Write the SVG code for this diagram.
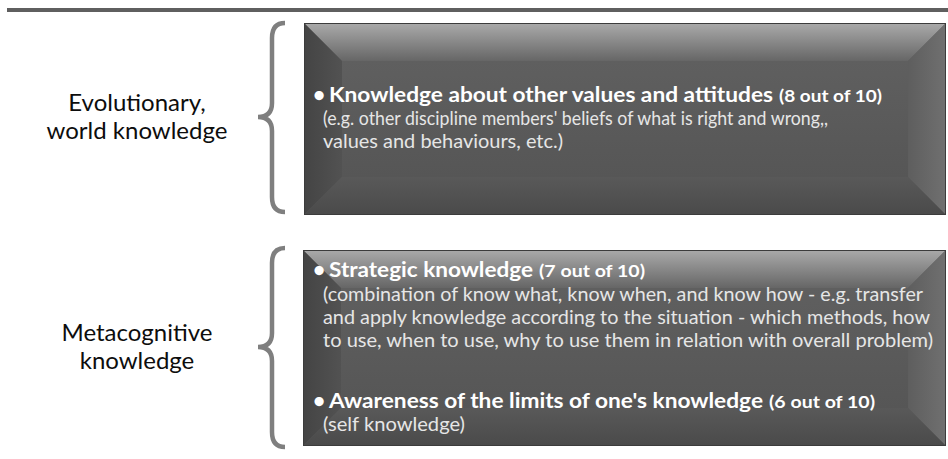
<svg xmlns="http://www.w3.org/2000/svg" width="948" height="459" viewBox="0 0 948 459">
  <defs>
    <linearGradient id="gTop" x1="0" y1="0" x2="0" y2="1">
      <stop offset="0" stop-color="#aaaaaa"/>
      <stop offset="1" stop-color="#666666"/>
    </linearGradient>
    <linearGradient id="gLeft" x1="0" y1="0" x2="1" y2="0">
      <stop offset="0" stop-color="#444444"/>
      <stop offset="1" stop-color="#525252"/>
    </linearGradient>
    <linearGradient id="gRight" x1="0" y1="0" x2="1" y2="0">
      <stop offset="0" stop-color="#5e5e5e"/>
      <stop offset="1" stop-color="#707070"/>
    </linearGradient>
    <linearGradient id="gBottom" x1="0" y1="0" x2="0" y2="1">
      <stop offset="0" stop-color="#595959"/>
      <stop offset="1" stop-color="#4a4a4a"/>
    </linearGradient>
    <linearGradient id="gFace" x1="0" y1="0" x2="0" y2="1">
      <stop offset="0" stop-color="#5f5f5f"/>
      <stop offset="1" stop-color="#565656"/>
    </linearGradient>
  </defs>
  <style>
    .brace { fill: none; stroke: #7f7f7f; stroke-width: 4.5; stroke-linecap: butt; }
    .label { font-family: Lato, "Liberation Sans", sans-serif; font-size: 24px; fill: #0d0d0d; text-anchor: middle; }
    .head { font-family: Lato, "Liberation Sans", sans-serif; font-size: 21px; font-weight: bold; fill: #ffffff; }
    .score { font-family: Lato, "Liberation Sans", sans-serif; font-size: 17px; font-weight: bold; fill: #ffffff; }
    .body { font-family: Lato, "Liberation Sans", sans-serif; font-size: 19px; fill: #e6e6e6; }
    .edge { fill: none; stroke: #3c3c3c; stroke-width: 1; }
  </style>

  <rect x="7" y="8" width="941" height="4" fill="#5f5f5f"/>

  <g id="connectors">
    <path class="brace" d="M 285 23 Q 272 23 272 38 L 272 103 Q 272 117 258 117 Q 272 117 272 131 L 272 197 Q 272 212 285 212"/>
    <path class="brace" d="M 285 248 Q 272 248 272 263 L 272 333 Q 272 347 258 347 Q 272 347 272 361 L 272 432 Q 272 447 285 447"/>
  </g>

  <g id="label-evolutionary">
    <text class="label" x="137" y="111">Evolutionary,</text>
    <text class="label" x="137" y="139">world knowledge</text>
  </g>

  <g id="label-metacognitive">
    <text class="label" x="137" y="341">Metacognitive</text>
    <text class="label" x="137" y="369">knowledge</text>
  </g>

  <g id="box-world">
    <rect x="304" y="23" width="642" height="192" fill="url(#gFace)"/>
    <polygon points="304,23 946,23 908,61 342,61" fill="url(#gTop)"/>
    <polygon points="304,23 342,61 342,177 304,215" fill="url(#gLeft)"/>
    <polygon points="946,23 946,215 908,177 908,61" fill="url(#gRight)"/>
    <polygon points="304,215 342,177 908,177 946,215" fill="url(#gBottom)"/>
    <rect x="342" y="61" width="566" height="116" fill="url(#gFace)"/>
    <rect class="edge" x="304.5" y="23.5" width="641" height="191"/>
    <text class="head" x="313" y="102">•</text>
    <text class="head" x="329" y="102" textLength="444" lengthAdjust="spacingAndGlyphs">Knowledge about other values and attitudes</text>
    <text class="score" x="779" y="102" textLength="103" lengthAdjust="spacingAndGlyphs">(8 out of 10)</text>
    <text class="body" x="323" y="125" textLength="505" lengthAdjust="spacingAndGlyphs">(e.g. other discipline members' beliefs of what is right and wrong,,</text>
    <text class="body" x="323" y="148" textLength="240" lengthAdjust="spacingAndGlyphs">values and behaviours, etc.)</text>
  </g>

  <g id="box-meta">
    <rect x="303" y="250" width="643" height="196" fill="url(#gFace)"/>
    <polygon points="303,250 946,250 908,288 341,288" fill="url(#gTop)"/>
    <polygon points="303,250 341,288 341,408 303,446" fill="url(#gLeft)"/>
    <polygon points="946,250 946,446 908,408 908,288" fill="url(#gRight)"/>
    <polygon points="303,446 341,408 908,408 946,446" fill="url(#gBottom)"/>
    <rect x="341" y="288" width="567" height="120" fill="url(#gFace)"/>
    <rect class="edge" x="303.5" y="250.5" width="642" height="195"/>
    <text class="head" x="313" y="277">•</text>
    <text class="head" x="329" y="277" textLength="204" lengthAdjust="spacingAndGlyphs">Strategic knowledge</text>
    <text class="score" x="539" y="277" textLength="106" lengthAdjust="spacingAndGlyphs">(7 out of 10)</text>
    <text class="body" x="323" y="301" textLength="600" lengthAdjust="spacingAndGlyphs">(combination of know what, know when, and know how - e.g. transfer</text>
    <text class="body" x="323" y="324" textLength="607" lengthAdjust="spacingAndGlyphs">and apply knowledge according to the situation - which methods, how</text>
    <text class="body" x="323" y="347" textLength="610" lengthAdjust="spacingAndGlyphs">to use, when to use, why to use them in relation with overall problem)</text>
    <text class="head" x="313" y="408">•</text>
    <text class="head" x="329" y="408" textLength="434" lengthAdjust="spacingAndGlyphs">Awareness of the limits of one's knowledge</text>
    <text class="score" x="769" y="408" textLength="106" lengthAdjust="spacingAndGlyphs">(6 out of 10)</text>
    <text class="body" x="323" y="431" textLength="142" lengthAdjust="spacingAndGlyphs">(self knowledge)</text>
  </g>
</svg>
